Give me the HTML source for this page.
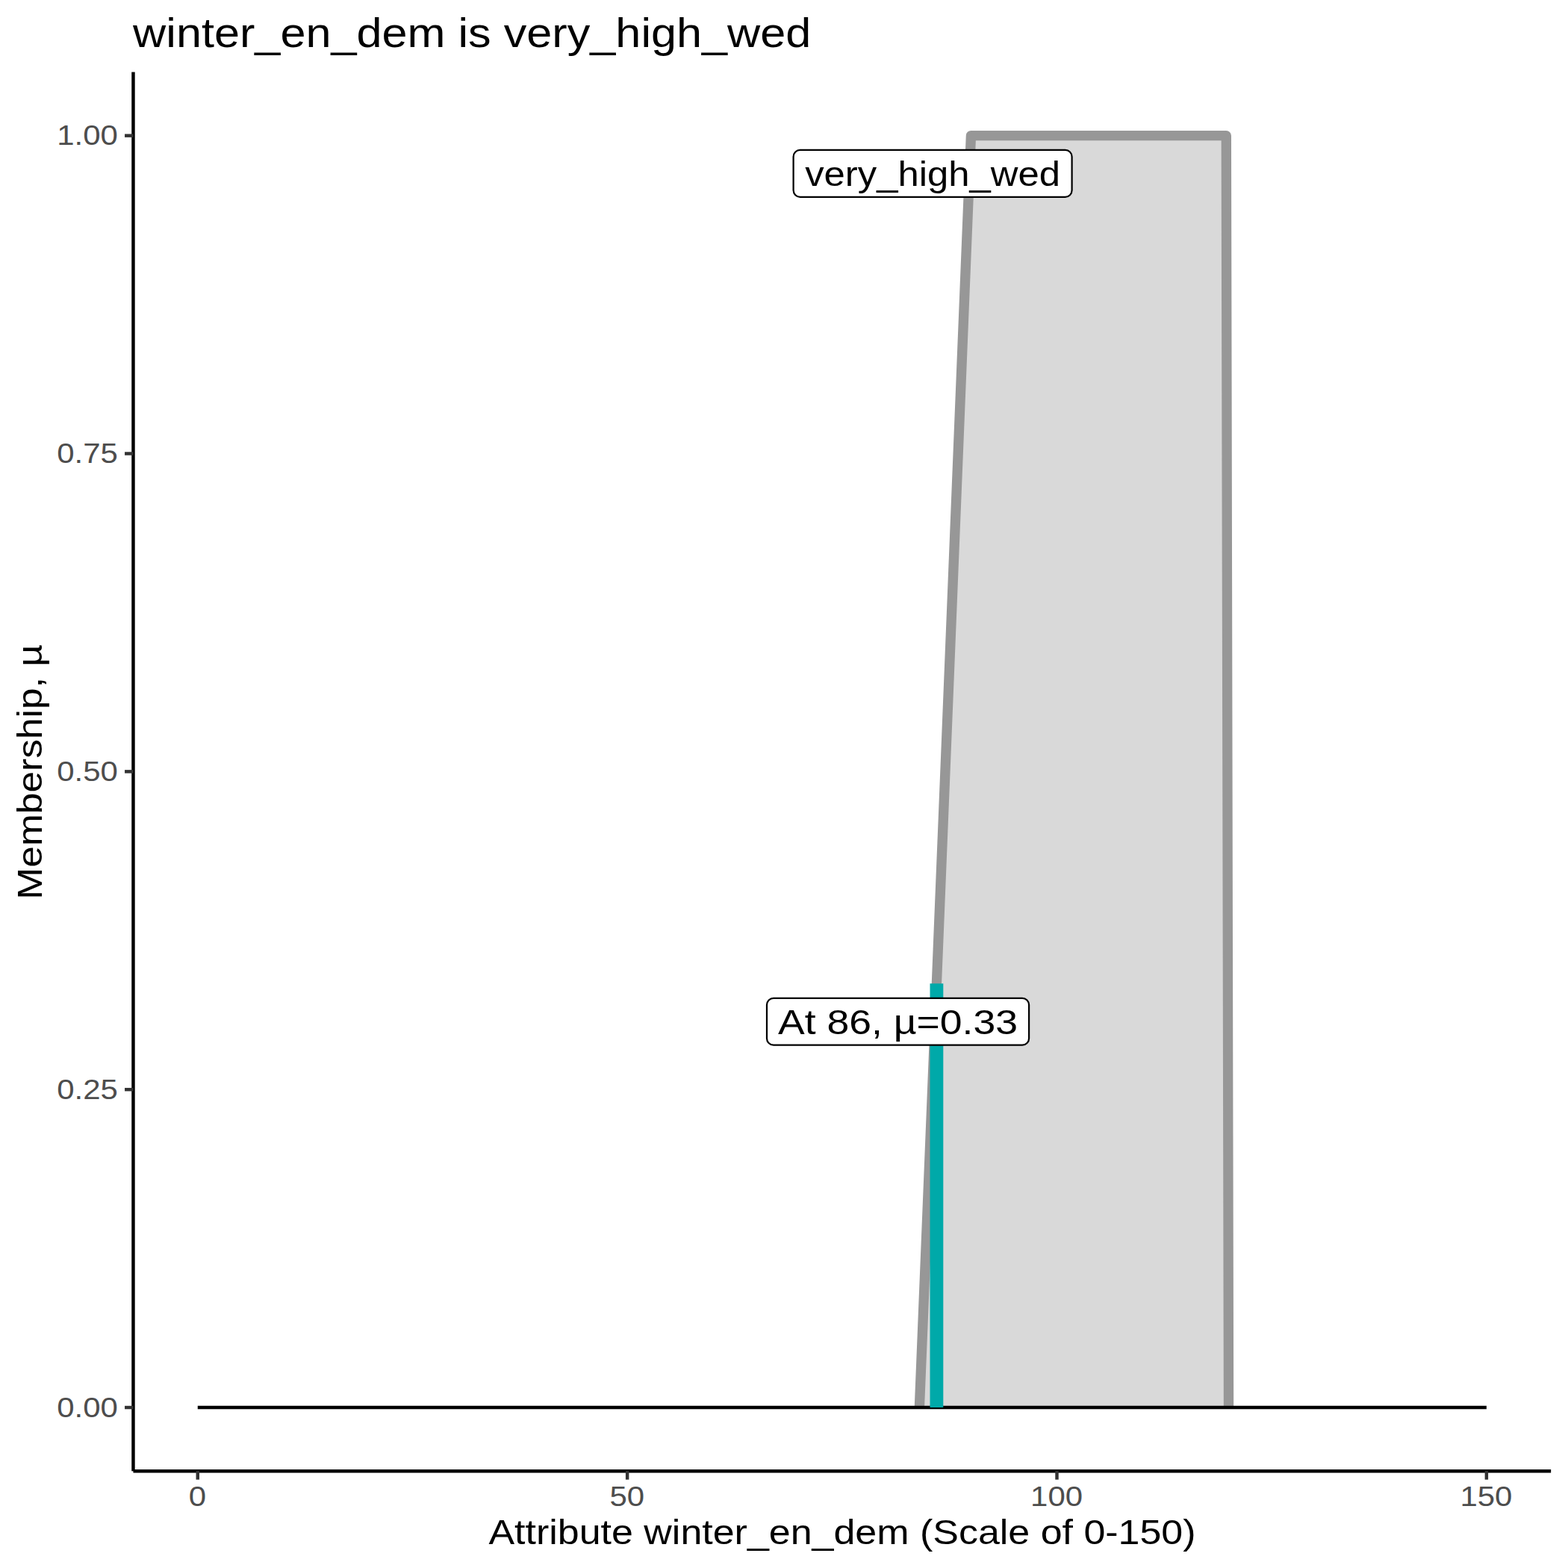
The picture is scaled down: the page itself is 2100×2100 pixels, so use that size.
<!DOCTYPE html>
<html lang="en">
<head>
<meta charset="utf-8">
<title>winter_en_dem is very_high_wed</title>
<style>
html,body{margin:0;padding:0;background:#fff;}
body{width:2100px;height:2100px;overflow:hidden;font-family:"Liberation Sans",sans-serif;}
svg{display:block;}
svg text{font-family:"Liberation Sans","DejaVu Sans",sans-serif;}
</style>
</head>
<body>
<svg width="2100" height="2100" viewBox="0 0 2100 2100" role="img" aria-label="Membership function plot: winter_en_dem is very_high_wed">
<rect width="2100" height="2100" fill="#fff"/>
<g id="panel">
<polygon points="1231.39,1885.03 1300.43,181.67 1642.30,181.67 1645.50,1885.03" fill="#D9D9D9"/>
<polyline points="1231.39,1885.03 1300.43,181.67 1642.30,181.67 1645.50,1885.03" fill="none" stroke="#979797" stroke-width="13.34" stroke-linejoin="round" stroke-linecap="butt"/>
<line x1="264.77" y1="1885.03" x2="1990.87" y2="1885.03" stroke="#000" stroke-width="4.45"/>
<line x1="1254.40" y1="1885.03" x2="1254.40" y2="1317.24" stroke="#00A9A9" stroke-width="17.80"/>
<rect x="1062.60" y="200.90" width="373.00" height="62.90" rx="9" ry="9" fill="#fff" stroke="#000" stroke-width="2.22"/>
<rect x="1027.00" y="1336.80" width="351.10" height="62.90" rx="9" ry="9" fill="#fff" stroke="#000" stroke-width="2.22"/>
</g>
<g id="axes">
<line x1="178.47" y1="96.50" x2="178.47" y2="1970.20" stroke="#000" stroke-width="4.45"/>
<line x1="178.47" y1="1970.20" x2="2077.17" y2="1970.20" stroke="#000" stroke-width="4.45"/>
<line x1="264.77" y1="1970.20" x2="264.77" y2="1981.62" stroke="#333333" stroke-width="4.45"/>
<line x1="840.14" y1="1970.20" x2="840.14" y2="1981.62" stroke="#333333" stroke-width="4.45"/>
<line x1="1415.50" y1="1970.20" x2="1415.50" y2="1981.62" stroke="#333333" stroke-width="4.45"/>
<line x1="1990.87" y1="1970.20" x2="1990.87" y2="1981.62" stroke="#333333" stroke-width="4.45"/>
<line x1="167.05" y1="1885.03" x2="178.47" y2="1885.03" stroke="#333333" stroke-width="4.45"/>
<line x1="167.05" y1="1459.19" x2="178.47" y2="1459.19" stroke="#333333" stroke-width="4.45"/>
<line x1="167.05" y1="1033.35" x2="178.47" y2="1033.35" stroke="#333333" stroke-width="4.45"/>
<line x1="167.05" y1="607.51" x2="178.47" y2="607.51" stroke="#333333" stroke-width="4.45"/>
<line x1="167.05" y1="181.67" x2="178.47" y2="181.67" stroke="#333333" stroke-width="4.45"/>
</g>
<g id="text-layer">
<text x="178.12" y="62.75" font-size="55.00" fill="#000" textLength="908.25" lengthAdjust="spacingAndGlyphs">winter_en_dem is very_high_wed</text>
<text x="654.46" y="2068.00" font-size="45.83" fill="#000" textLength="947.12" lengthAdjust="spacingAndGlyphs">Attribute winter_en_dem (Scale of 0-150)</text>
<text transform="translate(56.20 1204.63) rotate(-90)" font-size="45.83" fill="#000" textLength="341.55" lengthAdjust="spacingAndGlyphs">Membership, µ</text>
<text x="252.71" y="2016.85" font-size="36.67" fill="#4D4D4D" textLength="23.33" lengthAdjust="spacingAndGlyphs">0</text>
<text x="816.41" y="2016.85" font-size="36.67" fill="#4D4D4D" textLength="46.66" lengthAdjust="spacingAndGlyphs">50</text>
<text x="1380.11" y="2016.85" font-size="36.67" fill="#4D4D4D" textLength="69.99" lengthAdjust="spacingAndGlyphs">100</text>
<text x="1955.47" y="2016.85" font-size="36.67" fill="#4D4D4D" textLength="69.99" lengthAdjust="spacingAndGlyphs">150</text>
<text x="76.25" y="1897.83" font-size="36.67" fill="#4D4D4D" textLength="81.65" lengthAdjust="spacingAndGlyphs">0.00</text>
<text x="76.25" y="1471.99" font-size="36.67" fill="#4D4D4D" textLength="81.65" lengthAdjust="spacingAndGlyphs">0.25</text>
<text x="76.25" y="1046.15" font-size="36.67" fill="#4D4D4D" textLength="81.65" lengthAdjust="spacingAndGlyphs">0.50</text>
<text x="76.25" y="620.31" font-size="36.67" fill="#4D4D4D" textLength="81.65" lengthAdjust="spacingAndGlyphs">0.75</text>
<text x="76.25" y="194.47" font-size="36.67" fill="#4D4D4D" textLength="81.65" lengthAdjust="spacingAndGlyphs">1.00</text>
<text x="1078.20" y="248.86" font-size="45.83" fill="#000" textLength="341.80" lengthAdjust="spacingAndGlyphs">very_high_wed</text>
<text x="1042.08" y="1384.76" font-size="45.83" fill="#000" textLength="320.94" lengthAdjust="spacingAndGlyphs">At 86, µ=0.33</text>
</g>
</svg>
</body>
</html>
